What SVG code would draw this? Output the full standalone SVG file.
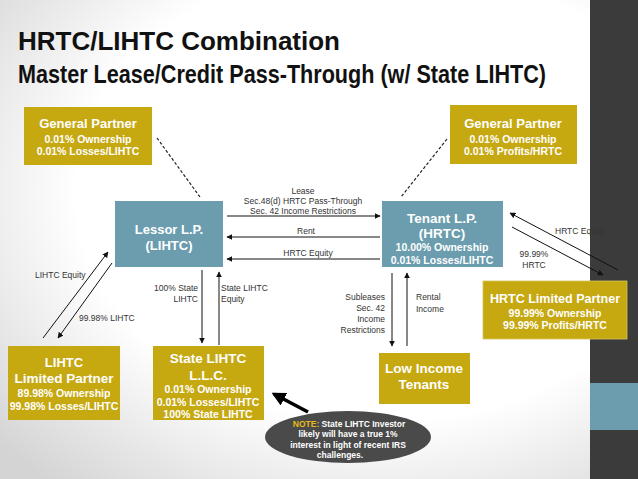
<svg xmlns="http://www.w3.org/2000/svg" width="638" height="479" viewBox="0 0 638 479">
<style>
.gold{fill:#C6A811}
.teal{fill:#6B9DAE}
.bt{font-family:"Liberation Sans",Arial,sans-serif;font-weight:bold;fill:#ffffff;text-anchor:middle}
.lb{font-family:"Liberation Sans",Arial,sans-serif;font-size:8.5px;fill:#333333}
.ln{stroke:#111111;stroke-width:1;fill:none}
.dash{stroke:#222222;stroke-width:1.2;stroke-dasharray:3,2;fill:none}
.ttl{font-family:"Liberation Sans",Arial,sans-serif;font-weight:bold;fill:#111111}
</style>
<defs>
<radialGradient id="bg" cx="0.6" cy="0.4" r="0.8">
<stop offset="0.6" stop-color="#ffffff"/>
<stop offset="1" stop-color="#d4d4d4"/>
</radialGradient>
<marker id="ah" viewBox="0 0 10 10" refX="9" refY="5" markerWidth="6" markerHeight="6" orient="auto" markerUnits="userSpaceOnUse">
<path d="M0,0 L10,5 L0,10 z" fill="#111111"/>
</marker>
<marker id="ahb" viewBox="0 0 10 10" refX="8" refY="5" markerWidth="4" markerHeight="4" orient="auto">
<path d="M0,0 L10,5 L0,10 z" fill="#000000"/>
</marker>
</defs>
<rect width="638" height="479" fill="url(#bg)"/>
<rect x="590" y="0" width="48" height="479" fill="#3b3b3b"/>
<rect x="590" y="383" width="48" height="47" fill="#6B9DAE"/>

<g id="title">
<text class="ttl" x="18" y="50" font-size="26" textLength="322" lengthAdjust="spacingAndGlyphs">HRTC/LIHTC Combination</text>
<text class="ttl" x="18" y="83" font-size="25" textLength="528" lengthAdjust="spacingAndGlyphs">Master Lease/Credit Pass-Through (w/ State LIHTC)</text>
</g>

<g id="connectors">
<line class="dash" x1="157" y1="138" x2="200" y2="197"/>
<line class="dash" x1="447" y1="139" x2="401" y2="197"/>
<line class="ln" x1="227" y1="216" x2="380" y2="216" marker-end="url(#ah)"/>
<line class="ln" x1="380" y1="237" x2="227" y2="237" marker-end="url(#ah)"/>
<line class="ln" x1="380" y1="259" x2="227" y2="259" marker-end="url(#ah)"/>
<line class="ln" x1="43" y1="338" x2="108" y2="252" marker-end="url(#ah)"/>
<line class="ln" x1="112" y1="263" x2="58" y2="338" marker-end="url(#ah)"/>
<line class="ln" x1="202" y1="270" x2="202" y2="343" marker-end="url(#ah)"/>
<line class="ln" x1="219" y1="345" x2="219" y2="272" marker-end="url(#ah)"/>
<line class="ln" x1="392" y1="273" x2="392" y2="346" marker-end="url(#ah)"/>
<line class="ln" x1="407" y1="346" x2="407" y2="273" marker-end="url(#ah)"/>
<line class="ln" x1="618" y1="270" x2="510" y2="213" marker-end="url(#ah)"/>
<line class="ln" x1="512" y1="227" x2="603" y2="275" marker-end="url(#ah)"/>
<line x1="308" y1="412" x2="274" y2="394" stroke="#000000" stroke-width="3.5" marker-end="url(#ahb)"/>
<g class="lb">
<text x="303" y="194" text-anchor="middle">Lease</text>
<text x="303" y="204" text-anchor="middle">Sec.48(d) HRTC Pass-Through</text>
<text x="303" y="214" text-anchor="middle">Sec. 42 Income Restrictions</text>
<text x="306" y="234" text-anchor="middle">Rent</text>
<text x="308" y="256" text-anchor="middle">HRTC Equity</text>
<text x="35" y="278">LIHTC Equity</text>
<text x="79" y="321">99.98% LIHTC</text>
<text x="198" y="291" text-anchor="end">100% State</text>
<text x="198" y="302" text-anchor="end">LIHTC</text>
<text x="221" y="291">State LIHTC</text>
<text x="221" y="302">Equity</text>
<text x="385" y="300" text-anchor="end">Subleases</text>
<text x="385" y="311" text-anchor="end">Sec. 42</text>
<text x="385" y="322" text-anchor="end">Income</text>
<text x="385" y="333" text-anchor="end">Restrictions</text>
<text x="416" y="300">Rental</text>
<text x="416" y="312">Income</text>
<text x="555" y="234">HRTC Equity</text>
<text x="534" y="257" text-anchor="middle">99.99%</text>
<text x="534" y="268" text-anchor="middle">HRTC</text>
</g>
</g>

<g id="gp-left">
<rect class="gold" x="24" y="107" width="128" height="58"/>
<text class="bt" x="88" y="128" font-size="13">General Partner</text>
<text class="bt" x="88" y="143" font-size="10.5">0.01% Ownership</text>
<text class="bt" x="88" y="155" font-size="10.5">0.01% Losses/LIHTC</text>
</g>

<g id="gp-right">
<rect class="gold" x="450" y="105" width="127" height="59"/>
<text class="bt" x="513" y="128" font-size="13">General Partner</text>
<text class="bt" x="513" y="143" font-size="10.5">0.01% Ownership</text>
<text class="bt" x="513" y="155" font-size="10.5">0.01% Profits/HRTC</text>
</g>

<g id="lessor">
<rect class="teal" x="115" y="201" width="108" height="66"/>
<text class="bt" x="169" y="234" font-size="13">Lessor L.P.</text>
<text class="bt" x="169" y="250" font-size="13">(LIHTC)</text>
</g>

<g id="tenant">
<rect class="teal" x="382" y="201" width="121" height="66"/>
<text class="bt" x="442" y="223" font-size="13.5">Tenant L.P.</text>
<text class="bt" x="442" y="238" font-size="13.5">(HRTC)</text>
<text class="bt" x="442" y="251" font-size="10.5">10.00% Ownership</text>
<text class="bt" x="442" y="264" font-size="10.5">0.01% Losses/LIHTC</text>
</g>

<g id="lihtc-lp">
<rect class="gold" x="8" y="346" width="112" height="74"/>
<text class="bt" x="64" y="367" font-size="13">LIHTC</text>
<text class="bt" x="64" y="383" font-size="13.5">Limited Partner</text>
<text class="bt" x="64" y="397" font-size="10.5">89.98% Ownership</text>
<text class="bt" x="64" y="410" font-size="10.5">99.98% Losses/LIHTC</text>
</g>

<g id="state-llc">
<rect class="gold" x="153" y="346" width="111" height="74"/>
<text class="bt" x="208" y="363" font-size="13.5">State LIHTC</text>
<text class="bt" x="208" y="380" font-size="13.5">L.L.C.</text>
<text class="bt" x="208" y="393" font-size="10.5">0.01% Ownership</text>
<text class="bt" x="208" y="406" font-size="10.5">0.01% Losses/LIHTC</text>
<text class="bt" x="208" y="418" font-size="10.5">100% State LIHTC</text>
</g>

<g id="low-income">
<rect class="gold" x="379" y="353" width="91" height="51"/>
<text class="bt" x="424" y="373" font-size="13.5">Low Income</text>
<text class="bt" x="424" y="389" font-size="13.5">Tenants</text>
</g>

<g id="hrtc-lp">
<rect class="gold" x="483" y="281" width="144" height="58" stroke="#d8c65a" stroke-width="0.8"/>
<text class="bt" x="555" y="303" font-size="13" textLength="130" lengthAdjust="spacingAndGlyphs">HRTC Limited Partner</text>
<text class="bt" x="555" y="317" font-size="10.5">99.99% Ownership</text>
<text class="bt" x="555" y="329" font-size="10.5">99.99% Profits/HRTC</text>
</g>

<g id="note">
<ellipse cx="348" cy="437" rx="83" ry="26" fill="#4a4a4a"/>
<text class="bt" x="349" y="427" font-size="8.5"><tspan fill="#E8B81A">NOTE:</tspan> State LIHTC Investor</text>
<text class="bt" x="348" y="437" font-size="8.5">likely will have a true 1%</text>
<text class="bt" x="348" y="448" font-size="8.5">interest in light of recent IRS</text>
<text class="bt" x="340" y="458" font-size="8.5">challenges.</text>
</g>
</svg>
